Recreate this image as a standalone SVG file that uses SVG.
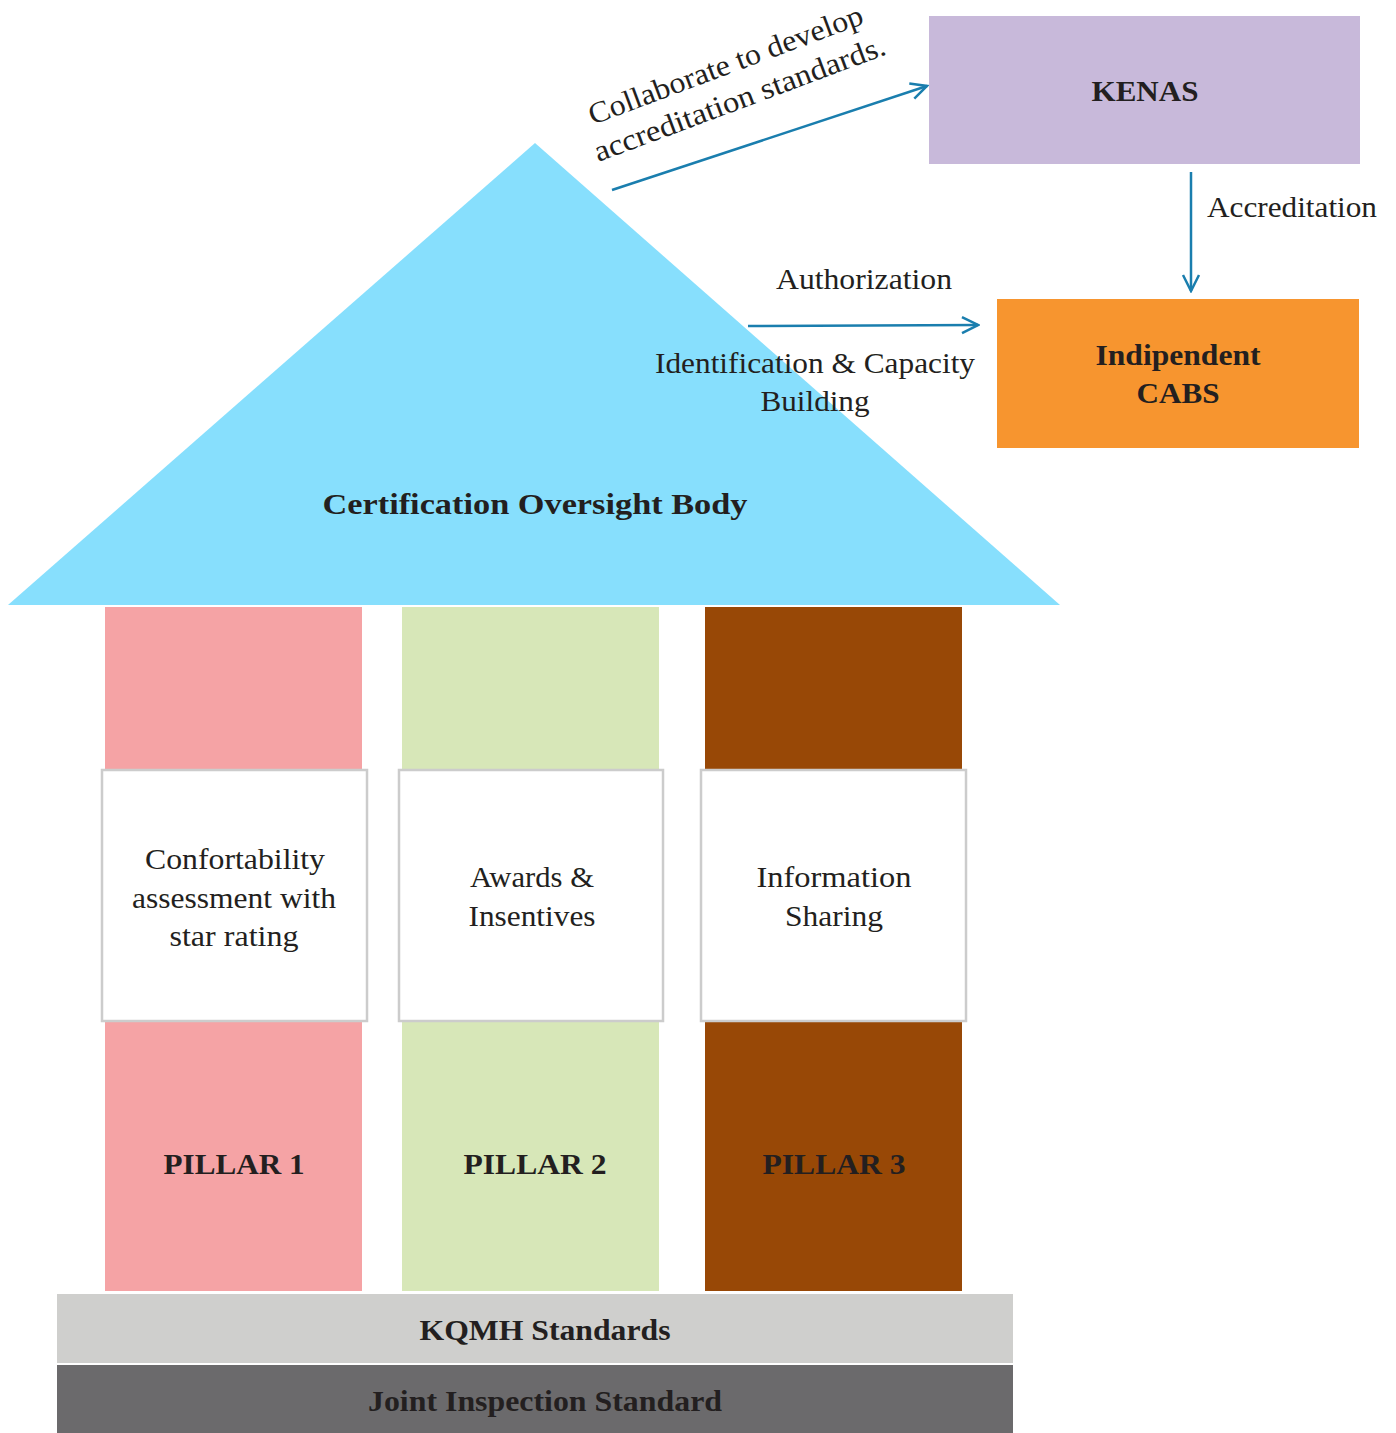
<svg xmlns="http://www.w3.org/2000/svg" width="1396" height="1433" viewBox="0 0 1396 1433">
<defs>
<style>
.t{font-family:"Liberation Serif","Times New Roman",serif;fill:#231F20;font-size:30px;text-anchor:middle}
.b{font-weight:bold}
.c{stroke:#1A7EAE;stroke-width:2.5;fill:none}
.box{fill:#fff;stroke:#CCCCCC;stroke-width:2.5}
</style>
<marker id="ah" viewBox="0 0 20 20" refX="18" refY="10" markerWidth="20" markerHeight="20" markerUnits="userSpaceOnUse" orient="auto">
<path d="M2,2 L18,10 L2,18" fill="none" stroke="#1A7EAE" stroke-width="2.5"/>
</marker>
</defs>
<rect width="1396" height="1433" fill="#fff"/>
<g id="roof">
<polygon points="535,143 8,605 1060,605" fill="#87DFFD"/>
<text class="t b" x="535" y="514" font-size="33" textLength="425" lengthAdjust="spacingAndGlyphs">Certification Oversight Body</text>
</g>
<g id="pillar1">
<rect x="105" y="607" width="257" height="684" fill="#F5A3A5"/>
<rect class="box" x="102" y="770" width="265" height="251"/>
<text class="t" x="235" y="869" textLength="180" lengthAdjust="spacingAndGlyphs">Confortability</text>
<text class="t" x="234" y="908" textLength="204" lengthAdjust="spacingAndGlyphs">assessment with</text>
<text class="t" x="234" y="946" textLength="129" lengthAdjust="spacingAndGlyphs">star rating</text>
<text class="t b" x="234" y="1174" textLength="141" lengthAdjust="spacingAndGlyphs">PILLAR 1</text>
</g>
<g id="pillar2">
<rect x="402" y="607" width="257" height="684" fill="#D7E7B8"/>
<rect class="box" x="399" y="770" width="264" height="251"/>
<text class="t" x="532" y="887" textLength="124" lengthAdjust="spacingAndGlyphs">Awards &amp;</text>
<text class="t" x="532" y="926" textLength="127" lengthAdjust="spacingAndGlyphs">Insentives</text>
<text class="t b" x="535" y="1174" textLength="143" lengthAdjust="spacingAndGlyphs">PILLAR 2</text>
</g>
<g id="pillar3">
<rect x="705" y="607" width="257" height="684" fill="#984806"/>
<rect class="box" x="701" y="770" width="265" height="251"/>
<text class="t" x="834" y="887" textLength="155" lengthAdjust="spacingAndGlyphs">Information</text>
<text class="t" x="834" y="926" textLength="98" lengthAdjust="spacingAndGlyphs">Sharing</text>
<text class="t b" x="834" y="1174" textLength="143" lengthAdjust="spacingAndGlyphs">PILLAR 3</text>
</g>
<g id="kqmh">
<rect x="57" y="1294" width="956" height="69" fill="#CFCFCD"/>
<text class="t b" x="545" y="1340" font-size="31" textLength="251" lengthAdjust="spacingAndGlyphs">KQMH Standards</text>
</g>
<g id="joint">
<rect x="57" y="1365" width="956" height="68" fill="#6B6A6C"/>
<text class="t b" x="545" y="1411" font-size="31" textLength="354" lengthAdjust="spacingAndGlyphs">Joint Inspection Standard</text>
</g>
<g id="kenas">
<rect x="929" y="16" width="431" height="148" fill="#C8B9DA"/>
<text class="t b" x="1145" y="101" textLength="107" lengthAdjust="spacingAndGlyphs">KENAS</text>
</g>
<g id="cabs">
<rect x="997" y="299" width="362" height="149" fill="#F7952F"/>
<text class="t b" x="1178" y="365" textLength="165" lengthAdjust="spacingAndGlyphs">Indipendent</text>
<text class="t b" x="1178" y="403" textLength="83" lengthAdjust="spacingAndGlyphs">CABS</text>
</g>
<g id="connectors">
<line class="c" x1="612" y1="190" x2="927" y2="86" marker-end="url(#ah)"/>
<line class="c" x1="748" y1="326" x2="978" y2="325" marker-end="url(#ah)"/>
<line class="c" x1="1191" y1="172" x2="1191" y2="291" marker-end="url(#ah)"/>
<text class="t" transform="translate(729 74) rotate(-20.5)" textLength="291" lengthAdjust="spacingAndGlyphs">Collaborate to develop</text>
<text class="t" transform="translate(743 108) rotate(-20.5)" textLength="309" lengthAdjust="spacingAndGlyphs">accreditation standards.</text>
<text class="t" x="864" y="289" textLength="176" lengthAdjust="spacingAndGlyphs">Authorization</text>
<text class="t" x="815" y="373" textLength="320" lengthAdjust="spacingAndGlyphs">Identification &amp; Capacity</text>
<text class="t" x="815" y="411" textLength="109" lengthAdjust="spacingAndGlyphs">Building</text>
<text class="t" x="1292" y="217" textLength="170" lengthAdjust="spacingAndGlyphs">Accreditation</text>
</g>
</svg>
